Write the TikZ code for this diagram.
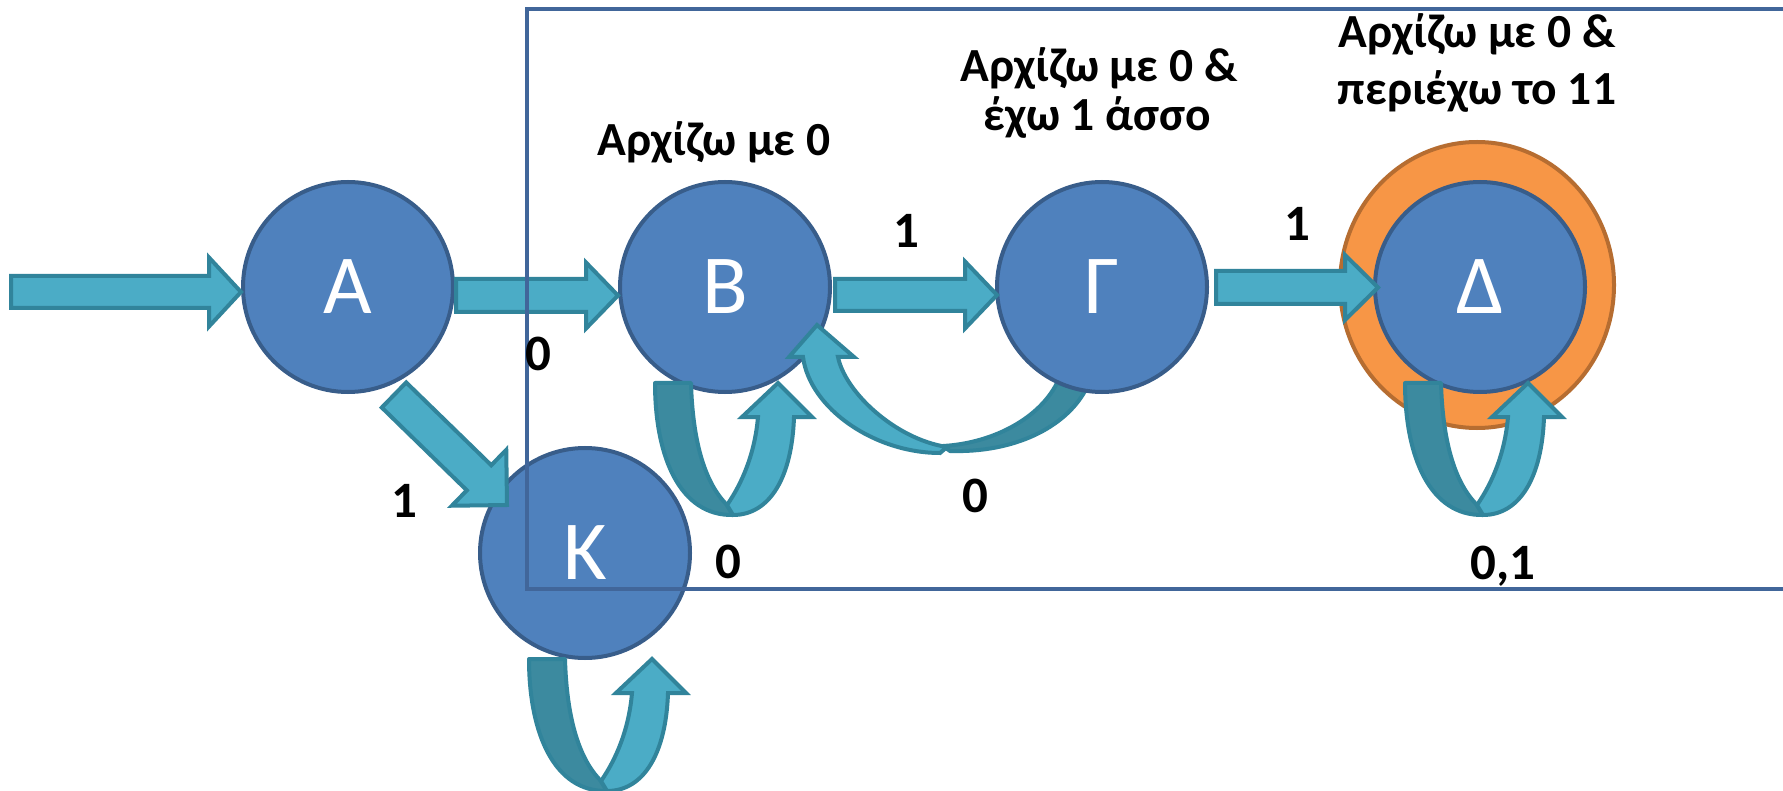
\documentclass[tikz,border=0pt]{standalone}
\usepackage{fontspec}
\setmainfont{Carlito}
\usetikzlibrary{calc,shapes.geometric}
\definecolor{cfill}{HTML}{4F81BD}
\definecolor{cline}{HTML}{385D8A}
\definecolor{afill}{HTML}{4BACC6}
\definecolor{aline}{HTML}{31849B}
\definecolor{adark}{HTML}{3C8A9F}
\definecolor{ofill}{HTML}{F79646}
\definecolor{oline}{HTML}{B66D31}
\definecolor{boxcol}{HTML}{41669A}
\pgfdeclarelayer{back}
\pgfdeclarelayer{paper}
\pgfsetlayers{paper,back,main}
\tikzset{
 state/.style={circle, fill=cfill, draw=cline, line width=4pt, minimum size=210pt, inner sep=0pt, outer sep=0pt, text=white, font=\fontsize{84}{100}\selectfont},
 barrowsty/.style={fill=afill, draw=aline, line width=4pt, line join=miter},
 darkband/.style={fill=adark, draw=aline, line width=4pt, line join=round},
 lightband/.style={fill=afill, draw=aline, line width=4pt, line join=miter},
 lbl/.style={font=\fontsize{51}{60}\selectfont\bfseries, anchor=base, inner sep=0pt},
 note/.style={font=\fontsize{47.5}{56}\selectfont\bfseries, anchor=base, inner sep=0pt},
 boxline/.style={draw=boxcol, line width=4pt},
}
% #1 start, #2 tip, #3 shaft half width, #4 head half width, #5 head length
\newcommand\blockarrow[5]{%
  \draw[barrowsty] let \p1=(#1), \p2=(#2),
     \n1={atan2(\y2-\y1,\x2-\x1)},
     \n2={veclen(\x2-\x1,\y2-\y1)-#5pt}
   in ($(\p1)+(\n1+90:#3pt)$) -- ($(\p1)+(\n1:\n2)+(\n1+90:#3pt)$)
   -- ($(\p1)+(\n1:\n2)+(\n1+90:#4pt)$) -- (\p2)
   -- ($(\p1)+(\n1:\n2)+(\n1-90:#4pt)$) -- ($(\p1)+(\n1:\n2)+(\n1-90:#3pt)$)
   -- ($(\p1)+(\n1-90:#3pt)$) -- cycle;}
% #1 node, #2 dx, #3 dy
\newcommand\selfloop[3]{%
 \begin{scope}[shift={(#1.center)}, shift={(#2,#3)}]
   \draw[darkband] (-70,96) -- (-34,96) .. controls (-32,165) and (-16,200) .. (2,218)
     -- (8,228) .. controls (-45,229) and (-70,170) .. (-70,96) -- cycle;
   \draw[lightband] (2,218) .. controls (18,195) and (30,165) .. (33,130) -- (17,130)
     -- (53,96) -- (87,130) -- (69,130) .. controls (67,190) and (45,228) .. (8,228) -- cycle;
 \end{scope}}
\begin{document}
\begin{tikzpicture}[x=1pt,y=-1pt]
\useasboundingbox (0,0) rectangle (1783,791);
\clip (0,0) rectangle (1783,791);
\begin{pgfonlayer}{paper}
  \fill[white] (0,0) rectangle (1783,791);
\end{pgfonlayer}

% states
\node[state] (A) at (348,287) {Α};
\node[state] (B) at (725,287) {Β};
\node[state] (G) at (1102,287) {Γ};
\node[state] (D) at (1480,287) {Δ};
\node[state] (K) at (585,553) {Κ};

\begin{pgfonlayer}{back}
  \node[ellipse, fill=ofill, draw=oline, line width=4pt, minimum width=274pt, minimum height=286pt, inner sep=0pt, outer sep=0pt] (Dring) at (1477,285) {};
  \begin{scope}[shift={(B.center)}]
    \draw[darkband] (332,96) -- (360,104) .. controls (340,140) and (290,166) .. (225,164)
      -- (218,159) .. controls (270,156) and (315,130) .. (332,96) -- cycle;
  \end{scope}
\end{pgfonlayer}

% straight transitions
\coordinate (in) at (11,292);
\blockarrow{in}{$(A.west)+(-2,5)$}{16}{34.5}{32}
\blockarrow{$(A.east)+(3,8.5)$}{$(B.west)+(-2,8.5)$}{16.5}{33}{32}
\blockarrow{$(B.east)+(5,8)$}{$(G.west)+(0,8)$}{16}{33.5}{32}
\blockarrow{$(G.east)+(9,0.5)$}{$(D.west)+(3,0.5)$}{16.5}{32.5}{33}
\blockarrow{$(A.center)+(46,108)$}{$(K.center)+(-78,-48)$}{17.5}{39}{39}

% return arc G -> B (front part)
\begin{scope}[shift={(B.center)}]
  \draw[lightband] (78,70) -- (64,70) -- (92,38) -- (129,70) -- (113,70)
    .. controls (120,105) and (170,152) .. (222,160) -- (215,166)
    .. controls (150,166) and (85,122) .. (78,70) -- cycle;
\end{scope}

% self loops
\selfloop{B}{0}{0}
\selfloop{K}{14}{10}
\selfloop{D}{-5}{0}

% frame
\draw[boxline] (527,9) rectangle (1800,589);

% transition labels
\node[lbl] (l0) at (538,371) {0};
\node[lbl] (l1) at (404,517) {1};
\node[lbl] (l2) at (906,248) {1};
\node[lbl] (l3) at (1297,241) {1};
\node[lbl] (l4) at (975,512) {0};
\node[lbl] (l5) at (728,578) {0};
\node[lbl] (l6) at (1503,579) {0,1};

% state notes
\node[note] (tB) at (714,156) {Αρχίζω με 0};
\node[note] (tG1) at (1099,82) {Αρχίζω με 0 \&};
\node[note] (tG2) at (1097,131) {έχω 1 άσσο};
\node[note] (tD1) at (1477,48) {Αρχίζω με 0 \&};
\node[note] (tD2) at (1477,105) {περιέχω το 11};
\end{tikzpicture}
\end{document}
